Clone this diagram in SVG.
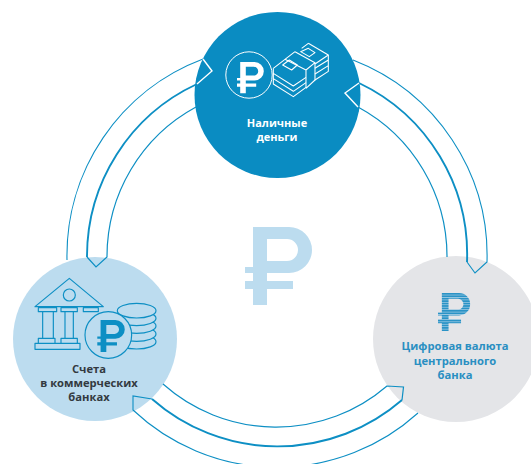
<svg xmlns="http://www.w3.org/2000/svg" width="531" height="464" viewBox="0 0 531 464">
<style>
text{font-family:"Open Sans","Liberation Sans",sans-serif;font-weight:700;text-anchor:middle}
.t1{font-size:11px;fill:#fff}
.t2{font-size:11.2px;fill:#333a40}
.t3{font-size:11.2px;fill:#2a8fc2}
.a{fill:none;stroke:#0d8fc4;stroke-linejoin:miter}
.thin{stroke-width:1.1}
.mid{stroke-width:1.9}
.inn{stroke-width:1.2}
.wa{fill:none;stroke:#fff;stroke-width:1.4}
.w{fill:none;stroke:#fff;stroke-width:3.2;stroke-linejoin:round}
.b{fill:#bcdcef;stroke:#0d8fc4;stroke-width:3.5;stroke-linejoin:round}
</style>
<defs>
<path id="rub" fill-rule="evenodd" d="M8 0H44A23 23 0 0 1 44 46H22V54H48V62H22V78H8V62H0V54H8V46H0V40H8ZM22 12V34H42A11 11 0 0 0 42 12Z"/>
<pattern id="stripes" patternUnits="userSpaceOnUse" width="4" height="5"><rect width="4" height="5" fill="#2a93c6"/><rect y="3.4" width="4" height="1.6" fill="#9cc9e2"/></pattern>
</defs>
<rect width="531" height="464" fill="#fff"/>
<g id="center-ruble"><use href="#rub" x="245" y="227" fill="#bcdcef"/></g>
<g id="node-cash">
<circle cx="277.5" cy="95" r="83" fill="#0a8cc2"/>
<circle cx="249" cy="75" r="23.2" fill="none" stroke="#fff" stroke-width="1"/>
<use href="#rub" transform="translate(237 62) scale(.4)" fill="#fff"/>
<g transform="translate(180 0) scale(.3333)">
<path class="w" d="M280 205L345 155M385 130L445 165L405 192M385 130L365 145M315 178L378 210L405 188L345 155M378 210V265M405 188V240L378 265"/>
<path class="w" d="M280 205V252L340 290L378 262M280 220L340 258L378 232M280 236L340 274L378 248M445 165V214L405 240M405 205L445 180M405 222L445 197"/>
<path class="w" d="M308 195L328 180L352 195L335 210ZM362 155L385 145L405 158L388 170Z"/>
</g>
<text class="t1" x="277" y="127">Наличные</text>
<text class="t1" x="277" y="141">деньги</text>
</g>
<g id="node-accounts">
<circle cx="95" cy="339" r="82" fill="#bcdcef"/>
<g transform="translate(0 240) scale(.3333)">
<path class="b" d="M105 200L208 115L310 200Z"/>
<circle class="b" cx="208" cy="165" r="18"/>
<path class="b" d="M115 203H170V215H115ZM183 203H232V215H183ZM250 203H295V215H250ZM128 215H160V295H128ZM195 215H220V295H195ZM115 295H165V310H115ZM183 295H232V310H183ZM105 310H240V328H105Z"/>
<ellipse class="b" cx="410" cy="305" rx="58" ry="22"/>
<ellipse class="b" cx="410" cy="282" rx="58" ry="22"/>
<ellipse class="b" cx="410" cy="258" rx="58" ry="22"/>
<ellipse class="b" cx="410" cy="235" rx="58" ry="22"/>
<ellipse class="b" cx="410" cy="212" rx="58" ry="22"/>
<circle class="b" cx="325" cy="285" r="70"/>
</g>
<use href="#rub" transform="translate(97.3 320) scale(.41)" fill="#0d8fc4"/>
<text class="t2" x="89" y="373">Счета</text>
<text class="t2" x="89" y="387">в коммерческих</text>
<text class="t2" x="89" y="401">банках</text>
</g>
<g id="node-digital">
<circle cx="456" cy="339" r="83" fill="#e4e5e8"/>
<use href="#rub" transform="translate(438 293) scale(.48 .487)" fill="url(#stripes)"/>
<text class="t3" x="455" y="350">Цифровая валюта</text>
<text class="t3" x="455" y="364.5">центрального</text>
<text class="t3" x="455" y="379">банка</text>
</g>
<g id="connectors">
<path class="a thin" d="M203 59A210 210 0 0 0 67 260"/>
<path class="a mid" d="M197 84A190 190 0 0 0 87 257"/>
<path class="a inn" d="M87 257L96 267L107 257A170 170 0 0 1 196 107"/>
<path class="wa" d="M203 59L212 71L197 84"/>
<path class="a thin" d="M353 60A210 210 0 0 1 487 262L475 273L467 262"/>
<path class="a mid" d="M359 83A190 190 0 0 1 467 262"/>
<path class="a inn" d="M358 107A170 170 0 0 1 447 257"/>
<path class="wa" d="M359 83L345 93L358 107"/>
<path class="a inn" d="M163 384A170 170 0 0 0 387 386L403.5 387L402 400"/>
<path class="a mid" d="M402 400A190 190 0 0 1 152 399"/>
<path class="a thin" d="M152 399L133 396V410A210 210 0 0 0 418 413"/>
</g>
</svg>
